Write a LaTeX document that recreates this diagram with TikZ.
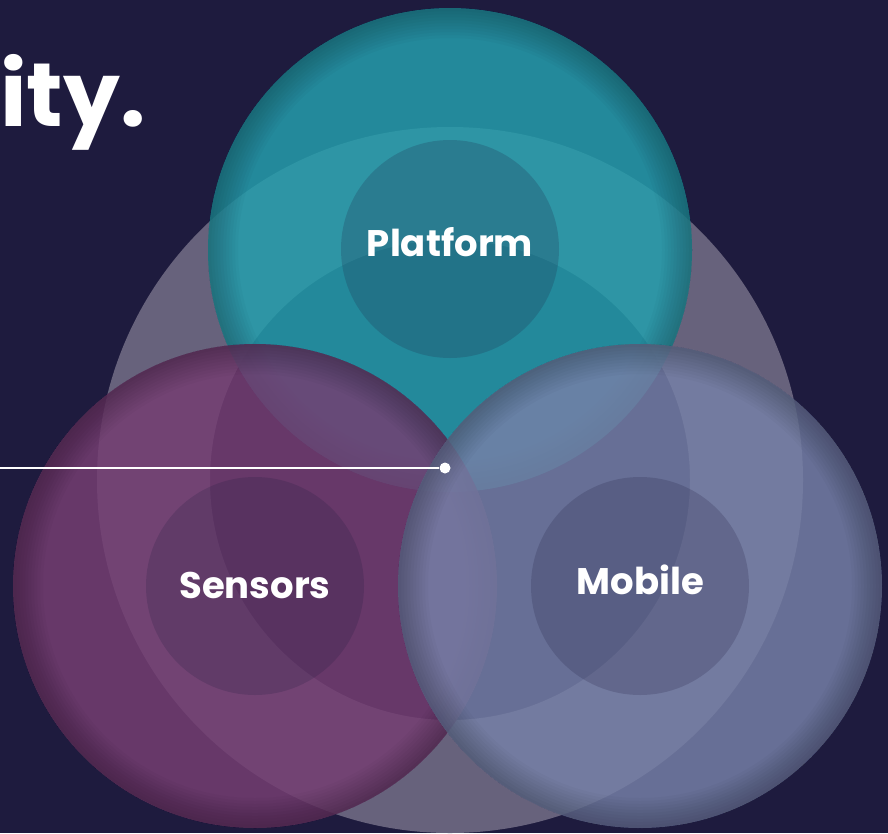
\documentclass[tikz,border=0pt]{standalone}
\usepackage{fontspec}
\setmainfont{Poppins}
\definecolor{navy}{RGB}{30,27,62}
\definecolor{ringgrey}{RGB}{103,98,124}
\definecolor{tealc}{RGB}{36,159,173}
\definecolor{plum}{RGB}{117,62,114}
\definecolor{lavender}{RGB}{118,128,167}
\begin{document}
\begin{tikzpicture}[x=1pt, y=-1pt,
    disc/.style={circle, inner sep=0pt, minimum size=484pt, fill opacity=.84},
    rim/.style={draw=black, draw opacity=.022},
    core/.style={circle, inner sep=0pt, minimum size=218pt, fill=navy, fill opacity=.2},
    caption/.style={anchor=base, inner sep=0pt, text=white, font=\bfseries\fontsize{37}{44}\selectfont},
    hub/.style={circle, fill=white, inner sep=0pt, minimum size=11pt}]
    \fill[navy] (0,0) rectangle (888,833);
    \useasboundingbox (0,0) rectangle (888,833);
    \clip (0,0) rectangle (888,833);
    \fill[ringgrey, even odd rule] (450,480) circle[radius=353pt] (450,480) circle[radius=240pt];
    \node[anchor=base east, inner sep=0pt, text=white, font=\bfseries\fontsize{90}{104}\selectfont] (title) at (146,126) {ity.};
    \node[disc, fill=tealc] (platform) at (450,250) {};
    \foreach \w in {3,6,...,30}
        \draw[rim, line width=\w pt] (platform.center) circle[radius=242pt-\w pt/2];
    \node[disc, fill=plum] (sensors) at (255,586) {};
    \foreach \w in {3,6,...,30}
        \draw[rim, line width=\w pt] (sensors.center) circle[radius=242pt-\w pt/2];
    \node[disc, fill=lavender] (mobile) at (640,586) {};
    \foreach \w in {3,6,...,30}
        \draw[rim, line width=\w pt] (mobile.center) circle[radius=242pt-\w pt/2];
    \node[core] (platformcore) at (450,249) {};
    \node[core] (sensorscore) at (255,586) {};
    \node[core] (mobilecore) at (640,586) {};
    \node[caption] (platformtext) at (450,256.5) {Platform};
    \node[caption] (sensorstext) at (255,598) {Sensors};
    \node[caption] (mobiletext) at (640.5,594.5) {Mobile};
    \coordinate (lead) at (0,468);
    \node[hub] (dot) at (445,468) {};
    \draw[white, line width=2.8pt] (lead) -- (dot);
\end{tikzpicture}
\end{document}
